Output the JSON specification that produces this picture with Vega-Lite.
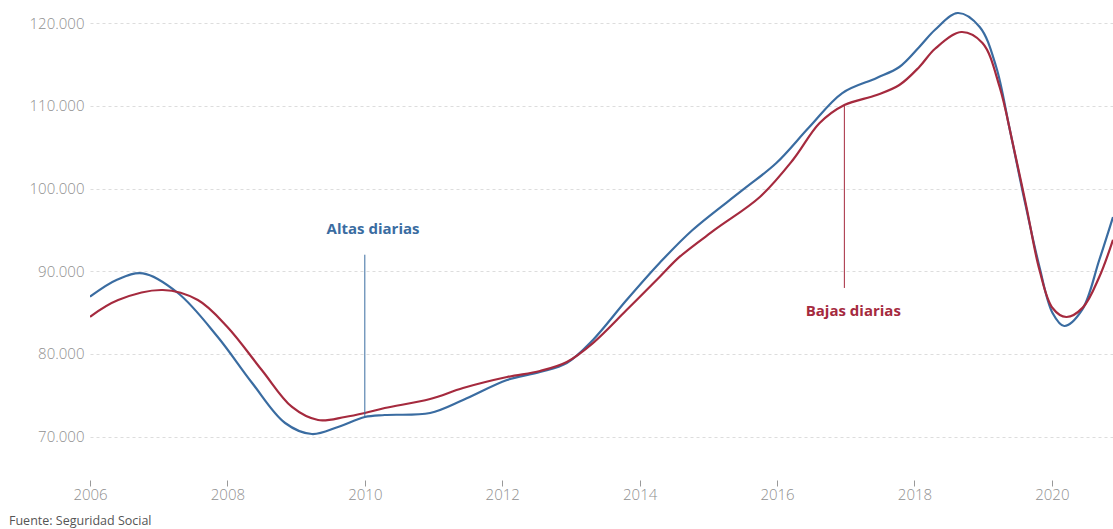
{
  "$schema": "https://vega.github.io/schema/vega-lite/v6.json",
  "width": 1023,
  "height": 478,
  "autosize": {"type": "none"},
  "padding": {"left": 90, "top": 0, "right": 0, "bottom": 51},
  "background": "white",
  "config": {
    "view": {"stroke": null},
    "font": "Open Sans",
    "axis": {"labelFont": "Open Sans", "labelFontWeight": 300}
  },
  "title": {
    "text": "Fuente: Seguridad Social",
    "orient": "bottom",
    "anchor": "start",
    "frame": "group",
    "dx": -81,
    "offset": 13,
    "fontSize": 12.5,
    "fontWeight": "normal",
    "color": "#555555",
    "font": "Open Sans"
  },
  "datasets": {
    "series": [
      {"serie": "Altas", "year": 2006.0, "value": 86920},
      {"serie": "Altas", "year": 2006.4, "value": 89000},
      {"serie": "Altas", "year": 2006.77, "value": 89750},
      {"serie": "Altas", "year": 2007.28, "value": 87370},
      {"serie": "Altas", "year": 2007.86, "value": 82050},
      {"serie": "Altas", "year": 2008.36, "value": 76490},
      {"serie": "Altas", "year": 2008.84, "value": 71650},
      {"serie": "Altas", "year": 2009.23, "value": 70320},
      {"serie": "Altas", "year": 2009.61, "value": 71170},
      {"serie": "Altas", "year": 2010.0, "value": 72380},
      {"serie": "Altas", "year": 2010.29, "value": 72620},
      {"serie": "Altas", "year": 2010.95, "value": 72860},
      {"serie": "Altas", "year": 2011.43, "value": 74430},
      {"serie": "Altas", "year": 2012.07, "value": 76850},
      {"serie": "Altas", "year": 2012.55, "value": 77820},
      {"serie": "Altas", "year": 2012.94, "value": 78910},
      {"serie": "Altas", "year": 2013.32, "value": 81690},
      {"serie": "Altas", "year": 2013.81, "value": 86520},
      {"serie": "Altas", "year": 2014.29, "value": 91000},
      {"serie": "Altas", "year": 2014.77, "value": 94990},
      {"serie": "Altas", "year": 2015.5, "value": 99830},
      {"serie": "Altas", "year": 2015.99, "value": 103090},
      {"serie": "Altas", "year": 2016.47, "value": 107440},
      {"serie": "Altas", "year": 2016.95, "value": 111550},
      {"serie": "Altas", "year": 2017.45, "value": 113370},
      {"serie": "Altas", "year": 2017.78, "value": 114700},
      {"serie": "Altas", "year": 2018.07, "value": 117120},
      {"serie": "Altas", "year": 2018.3, "value": 119200},
      {"serie": "Altas", "year": 2018.63, "value": 121230},
      {"serie": "Altas", "year": 2018.95, "value": 119540},
      {"serie": "Altas", "year": 2019.19, "value": 114700},
      {"serie": "Altas", "year": 2019.38, "value": 107440},
      {"serie": "Altas", "year": 2019.57, "value": 99830},
      {"serie": "Altas", "year": 2019.82, "value": 90520},
      {"serie": "Altas", "year": 2020.01, "value": 84950},
      {"serie": "Altas", "year": 2020.18, "value": 83380},
      {"serie": "Altas", "year": 2020.44, "value": 85320},
      {"serie": "Altas", "year": 2020.69, "value": 91360},
      {"serie": "Altas", "year": 2020.89, "value": 96560},
      {"serie": "Bajas", "year": 2006.0, "value": 84500},
      {"serie": "Bajas", "year": 2006.41, "value": 86520},
      {"serie": "Bajas", "year": 2007.06, "value": 87730},
      {"serie": "Bajas", "year": 2007.57, "value": 86520},
      {"serie": "Bajas", "year": 2008.0, "value": 83260},
      {"serie": "Bajas", "year": 2008.5, "value": 78060},
      {"serie": "Bajas", "year": 2008.94, "value": 73590},
      {"serie": "Bajas", "year": 2009.32, "value": 72010},
      {"serie": "Bajas", "year": 2009.71, "value": 72380},
      {"serie": "Bajas", "year": 2010.0, "value": 72860},
      {"serie": "Bajas", "year": 2010.29, "value": 73460},
      {"serie": "Bajas", "year": 2010.95, "value": 74550},
      {"serie": "Bajas", "year": 2011.43, "value": 75880},
      {"serie": "Bajas", "year": 2012.07, "value": 77210},
      {"serie": "Bajas", "year": 2012.55, "value": 77940},
      {"serie": "Bajas", "year": 2012.94, "value": 79030},
      {"serie": "Bajas", "year": 2013.32, "value": 81320},
      {"serie": "Bajas", "year": 2013.81, "value": 85310},
      {"serie": "Bajas", "year": 2014.29, "value": 89300},
      {"serie": "Bajas", "year": 2014.58, "value": 91730},
      {"serie": "Bajas", "year": 2015.09, "value": 94990},
      {"serie": "Bajas", "year": 2015.75, "value": 98980},
      {"serie": "Bajas", "year": 2016.23, "value": 103450},
      {"serie": "Bajas", "year": 2016.62, "value": 107920},
      {"serie": "Bajas", "year": 2016.98, "value": 110100},
      {"serie": "Bajas", "year": 2017.45, "value": 111310},
      {"serie": "Bajas", "year": 2017.78, "value": 112520},
      {"serie": "Bajas", "year": 2018.07, "value": 114700},
      {"serie": "Bajas", "year": 2018.3, "value": 116900},
      {"serie": "Bajas", "year": 2018.68, "value": 118930},
      {"serie": "Bajas", "year": 2018.99, "value": 117600},
      {"serie": "Bajas", "year": 2019.24, "value": 112280},
      {"serie": "Bajas", "year": 2019.43, "value": 105510},
      {"serie": "Bajas", "year": 2019.63, "value": 97770},
      {"serie": "Bajas", "year": 2019.82, "value": 90150},
      {"serie": "Bajas", "year": 2020.01, "value": 85560},
      {"serie": "Bajas", "year": 2020.21, "value": 84470},
      {"serie": "Bajas", "year": 2020.45, "value": 85600},
      {"serie": "Bajas", "year": 2020.69, "value": 89300},
      {"serie": "Bajas", "year": 2020.89, "value": 93800}
    ],
    "rules": [
      {"serie": "Altas", "year": 2010.0, "top": 92000, "bottom": 72380},
      {"serie": "Bajas", "year": 2016.98, "top": 110100, "bottom": 87980}
    ],
    "labels": [
      {"serie": "Altas", "label": "Altas diarias", "year": 2010.12, "value": 95150},
      {"serie": "Bajas", "label": "Bajas diarias", "year": 2017.11, "value": 85200}
    ]
  },
  "layer": [
    {
      "data": {"name": "series"},
      "mark": {"type": "line", "interpolate": "catmull-rom", "strokeWidth": 2.2, "clip": true},
      "encoding": {
        "x": {
          "field": "year",
          "type": "quantitative",
          "scale": {"domain": [2006, 2020.89], "nice": false, "zero": false},
          "axis": {
            "title": null,
            "values": [2006, 2008, 2010, 2012, 2014, 2016, 2018, 2020],
            "format": "d",
            "labelFlush": false,
            "domain": false,
            "grid": false,
            "ticks": true,
            "tickSize": 6,
            "tickColor": "#999999",
            "offset": 2,
            "labelPadding": 1,
            "labelFontSize": 15,
            "labelColor": "#909090"
          }
        },
        "y": {
          "field": "value",
          "type": "quantitative",
          "scale": {"domain": [65000, 122800], "nice": false, "zero": false},
          "axis": {
            "title": null,
            "values": [70000, 80000, 90000, 100000, 110000, 120000],
            "labelExpr": "replace(format(datum.value, ','), ',', '.')",
            "domain": false,
            "ticks": false,
            "labelPadding": 6,
            "labelFontSize": 15,
            "labelColor": "#909090",
            "grid": true,
            "gridColor": "#dddddd",
            "gridDash": [3, 3],
            "gridWidth": 1
          }
        },
        "color": {
          "field": "serie",
          "type": "nominal",
          "scale": {"domain": ["Altas", "Bajas"], "range": ["#3a6ca1", "#a52a3e"]},
          "legend": null
        },
        "detail": {"field": "serie"}
      }
    },
    {
      "data": {"name": "rules"},
      "mark": {"type": "rule", "strokeWidth": 1},
      "encoding": {
        "x": {"field": "year", "type": "quantitative"},
        "y": {"field": "top", "type": "quantitative"},
        "y2": {"field": "bottom"},
        "color": {"field": "serie", "type": "nominal", "legend": null}
      }
    },
    {
      "data": {"name": "labels"},
      "mark": {"type": "text", "font": "Open Sans", "fontWeight": "bold", "fontSize": 15, "align": "center", "baseline": "middle"},
      "encoding": {
        "x": {"field": "year", "type": "quantitative"},
        "y": {"field": "value", "type": "quantitative"},
        "text": {"field": "label"},
        "color": {"field": "serie", "type": "nominal", "legend": null}
      }
    }
  ]
}
